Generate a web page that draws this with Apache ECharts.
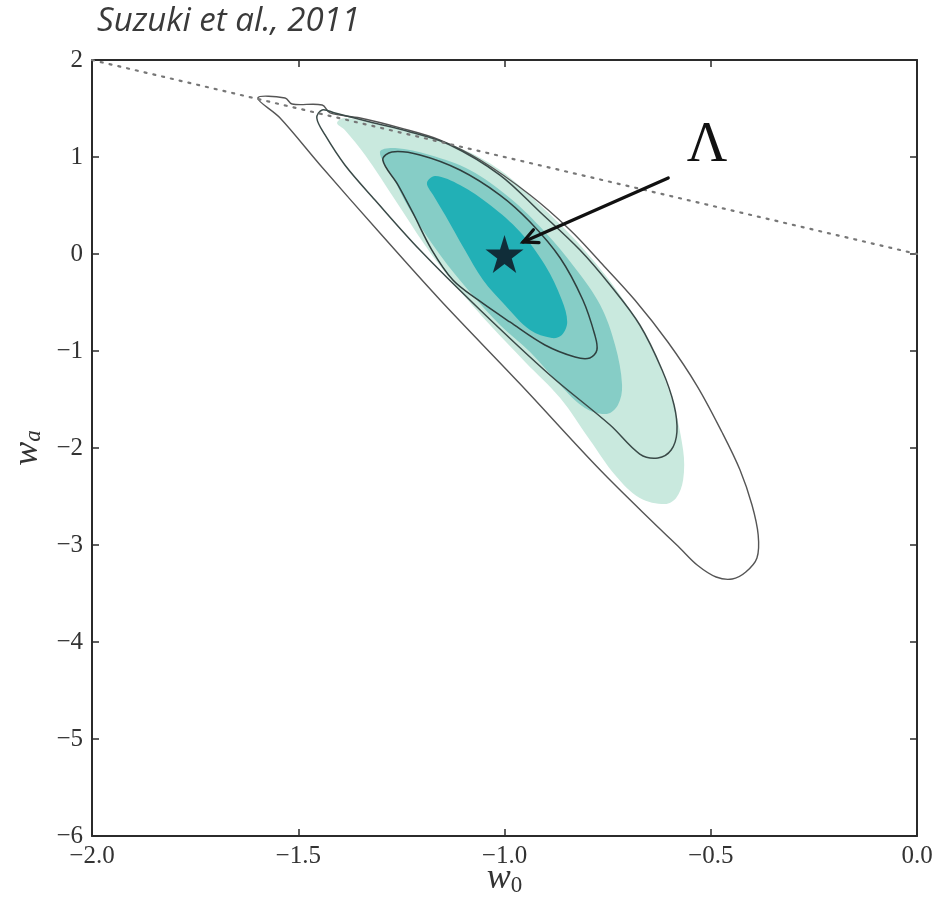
<!DOCTYPE html>
<html>
<head>
<meta charset="utf-8">
<script src="https://cdn.jsdelivr.net/npm/echarts@6/dist/echarts.min.js"></script>
<style>
  html, body { margin: 0; padding: 0; background: #ffffff; }
  #chart { width: 936px; height: 900px; }
</style>
</head>
<body>
<div id="chart"></div>
<script>
// Axis ranges and tick steps
const w0Range = [-2.0, 0.0];
const waRange = [-6, 2];
const w0Step = 0.5;
const waStep = 1;

// Confidence regions without systematics (filled), outlines as [w0, wa]
const fill997 = [
  [-1.406, 1.351], [-1.387, 1.402], [-1.302, 1.330], [-1.205, 1.227], [-1.108, 1.093],
  [-1.011, 0.866], [-0.914, 0.505], [-0.817, 0.093], [-0.720, -0.423], [-0.647, -0.938],
  [-0.594, -1.505], [-0.567, -2.021], [-0.567, -2.330], [-0.584, -2.515], [-0.611, -2.577],
  [-0.672, -2.515], [-0.732, -2.278], [-0.793, -1.918], [-0.865, -1.485], [-0.950, -1.113],
  [-1.035, -0.732], [-1.120, -0.320], [-1.193, 0.093], [-1.265, 0.557], [-1.338, 1.021],
  [-1.387, 1.278]
];
const fill954 = [
  [-1.302, 1.052], [-1.265, 1.093], [-1.181, 1.021], [-1.084, 0.866], [-0.987, 0.577],
  [-0.902, 0.227], [-0.829, -0.144], [-0.768, -0.526], [-0.732, -0.938], [-0.715, -1.351],
  [-0.725, -1.557], [-0.752, -1.649], [-0.805, -1.588], [-0.865, -1.351], [-0.938, -1.010],
  [-1.011, -0.732], [-1.084, -0.392], [-1.156, -0.010], [-1.229, 0.454], [-1.273, 0.814]
];
const fill683 = [
  [-1.188, 0.732], [-1.168, 0.804], [-1.108, 0.711], [-1.035, 0.505], [-0.962, 0.227],
  [-0.902, -0.113], [-0.861, -0.474], [-0.848, -0.701], [-0.861, -0.835], [-0.885, -0.866],
  [-0.938, -0.784], [-0.999, -0.526], [-1.052, -0.268], [-1.096, 0.041], [-1.144, 0.402],
  [-1.173, 0.608]
];

// Confidence regions with systematics (solid contours)
const line997 = [
  [-1.598, 1.608], [-1.532, 1.608], [-1.515, 1.546], [-1.442, 1.536], [-1.423, 1.454],
  [-1.350, 1.402], [-1.253, 1.300], [-1.156, 1.175], [-1.059, 0.969], [-0.938, 0.608],
  [-0.841, 0.247], [-0.768, -0.082], [-0.684, -0.474], [-0.604, -0.907], [-0.533, -1.361],
  [-0.473, -1.835], [-0.429, -2.227], [-0.400, -2.588], [-0.385, -2.897], [-0.388, -3.134],
  [-0.415, -3.278], [-0.448, -3.351], [-0.487, -3.330], [-0.533, -3.206], [-0.575, -3.031],
  [-0.623, -2.835], [-0.768, -2.227], [-0.962, -1.340], [-1.156, -0.474], [-1.302, 0.216],
  [-1.447, 0.918], [-1.544, 1.402]
];
const line954 = [
  [-1.455, 1.402], [-1.442, 1.485], [-1.411, 1.454], [-1.326, 1.361], [-1.229, 1.258],
  [-1.132, 1.124], [-1.011, 0.814], [-0.914, 0.433], [-0.817, 0.041], [-0.744, -0.320],
  [-0.672, -0.732], [-0.618, -1.196], [-0.589, -1.557], [-0.582, -1.835], [-0.596, -2.021],
  [-0.628, -2.103], [-0.672, -2.062], [-0.744, -1.763], [-0.890, -1.247], [-1.059, -0.577],
  [-1.205, 0.041], [-1.314, 0.557], [-1.387, 0.918], [-1.435, 1.227]
];
const line683 = [
  [-1.295, 0.969], [-1.273, 1.052], [-1.205, 1.021], [-1.108, 0.866], [-1.011, 0.608],
  [-0.938, 0.330], [-0.865, -0.041], [-0.810, -0.474], [-0.781, -0.835], [-0.776, -0.990],
  [-0.793, -1.072], [-0.829, -1.062], [-0.902, -0.938], [-0.987, -0.701], [-1.064, -0.474],
  [-1.125, -0.268], [-1.176, 0.041], [-1.222, 0.423], [-1.258, 0.711]
];

// w0 + wa = 0 boundary
const boundary = [[-2.0, 2.0], [0.0, 0.0]];
// Cosmological constant point and its annotation
const lambdaPoint = [-1.0, 0.0];
const arrowFrom = [-0.603, 0.784];
const arrowTo = [-0.955, 0.124];
const lambdaLabelAt = [-0.509, 1.113];
const lambdaText = 'Λ';
const citation = 'Suzuki et al., 2011';

const serif = '"Liberation Serif", "DejaVu Serif", serif';

function region(pts, fill, stroke, lineWidth, z) {
  return {
    type: 'custom',
    coordinateSystem: 'cartesian2d',
    silent: true,
    z: z,
    data: pts,
    renderItem: function (params, api) {
      if (params.dataIndex !== 0) return null;
      return {
        type: 'polygon',
        shape: { points: pts.map(function (p) { return api.coord(p); }), smooth: 0.35 },
        style: { fill: fill || 'none', stroke: stroke || 'none', lineWidth: lineWidth || 0 }
      };
    }
  };
}

const tickFmtX = function (v) { return (v < 0 ? '\u2212' : '') + Math.abs(v).toFixed(1); };
const tickFmtY = function (v) { return (v < 0 ? '\u2212' : '') + Math.abs(v); };

const axisLineStyle = { color: '#2b2b2b', width: 2 };
const tickStyle = { show: true, inside: true, length: 7, lineStyle: { color: '#2b2b2b', width: 1.5 } };

const nameRich = {
  w: { fontFamily: serif, fontStyle: 'italic', fontSize: 36, color: '#333', lineHeight: 36 },
  s: { fontFamily: serif, fontSize: 23, color: '#333', lineHeight: 36, verticalAlign: 'bottom', padding: [12, 0, 0, 0] },
  si: { fontFamily: serif, fontStyle: 'italic', fontSize: 23, color: '#333', lineHeight: 36, verticalAlign: 'bottom', padding: [12, 0, 0, 0] }
};

const chart = echarts.init(document.getElementById('chart'), null, { renderer: 'canvas' });
chart.setOption({
  animation: false,
  backgroundColor: '#ffffff',
  grid: { left: 92, right: 19, top: 60, bottom: 64, containLabel: false, outerBoundsMode: 'none' },
  graphic: [{
    type: 'text', left: 97, top: 5,
    style: { text: citation, font: 'italic 33px "Open Sans", sans-serif', fill: '#3a3a3a' }
  }],
  xAxis: [{
    type: 'value', min: w0Range[0], max: w0Range[1], interval: w0Step,
    position: 'bottom',
    axisLine: { show: true, onZero: false, lineStyle: axisLineStyle },
    axisTick: tickStyle,
    splitLine: { show: false },
    axisLabel: { formatter: tickFmtX, fontFamily: serif, fontSize: 25, color: '#333', margin: 8 },
    name: '{w|w}{s|0}', nameLocation: 'middle', nameGap: 25, nameMoveOverlap: false,
    nameTextStyle: { rich: nameRich }
  }, {
    type: 'value', min: w0Range[0], max: w0Range[1], interval: w0Step,
    position: 'top',
    axisLine: { show: true, onZero: false, lineStyle: axisLineStyle },
    axisTick: tickStyle,
    axisLabel: { show: false },
    splitLine: { show: false }
  }],
  yAxis: [{
    type: 'value', min: waRange[0], max: waRange[1], interval: waStep,
    position: 'left',
    axisLine: { show: true, onZero: false, lineStyle: axisLineStyle },
    axisTick: tickStyle,
    splitLine: { show: false },
    axisLabel: { formatter: tickFmtY, fontFamily: serif, fontSize: 25, color: '#333', margin: 9 },
    name: '{w|w}{si|a}', nameLocation: 'middle', nameGap: 46, nameRotate: 90,
    nameTextStyle: { rich: nameRich }
  }, {
    type: 'value', min: waRange[0], max: waRange[1], interval: waStep,
    position: 'right',
    axisLine: { show: true, onZero: false, lineStyle: axisLineStyle },
    axisTick: tickStyle,
    axisLabel: { show: false },
    splitLine: { show: false }
  }],
  series: [
    region(fill997, '#c9e9de', null, 0, 1),
    region(fill954, '#86cdc6', null, 0, 2),
    region(fill683, '#22b0b6', null, 0, 3),
    region(line997, null, '#555555', 1.4, 4),
    region(line954, null, '#3a4a48', 1.5, 5),
    region(line683, null, '#2f3f3e', 1.5, 6),
    {
      type: 'line', data: boundary, showSymbol: false, silent: true, z: 7,
      lineStyle: { color: '#777777', width: 2.2, type: [2, 7], cap: 'round' }
    },
    {
      type: 'custom', coordinateSystem: 'cartesian2d', silent: true, z: 9,
      data: [arrowFrom.concat(arrowTo)],
      renderItem: function (params, api) {
        const a = api.coord([api.value(0), api.value(1)]);
        const b = api.coord([api.value(2), api.value(3)]);
        const ang = Math.atan2(b[1] - a[1], b[0] - a[0]);
        const len = 16, spread = 0.45;
        const h1 = [b[0] - len * Math.cos(ang - spread), b[1] - len * Math.sin(ang - spread)];
        const h2 = [b[0] - len * Math.cos(ang + spread), b[1] - len * Math.sin(ang + spread)];
        const st = { stroke: '#111', lineWidth: 3.2, fill: 'none', lineCap: 'round' };
        return {
          type: 'group',
          children: [
            { type: 'line', shape: { x1: a[0], y1: a[1], x2: b[0], y2: b[1] }, style: st },
            { type: 'polyline', shape: { points: [h1, b, h2] }, style: st }
          ]
        };
      }
    },
    {
      type: 'scatter', data: [lambdaPoint], z: 10, silent: true,
      symbol: 'path://M50,0 L61.2,34.5 L97.6,34.5 L68.2,55.9 L79.4,90.5 L50,69.1 L20.6,90.5 L31.8,55.9 L2.4,34.5 L38.8,34.5 Z',
      symbolSize: 38,
      itemStyle: { color: '#0d0d1a' }
    },
    {
      type: 'custom', coordinateSystem: 'cartesian2d', silent: true, z: 10,
      data: [lambdaLabelAt],
      renderItem: function (params, api) {
        const p = api.coord([api.value(0), api.value(1)]);
        return {
          type: 'text', x: p[0], y: p[1],
          style: { text: lambdaText, font: '56px ' + serif, fill: '#111', align: 'center', verticalAlign: 'middle' }
        };
      }
    }
  ]
});
</script>
</body>
</html>
